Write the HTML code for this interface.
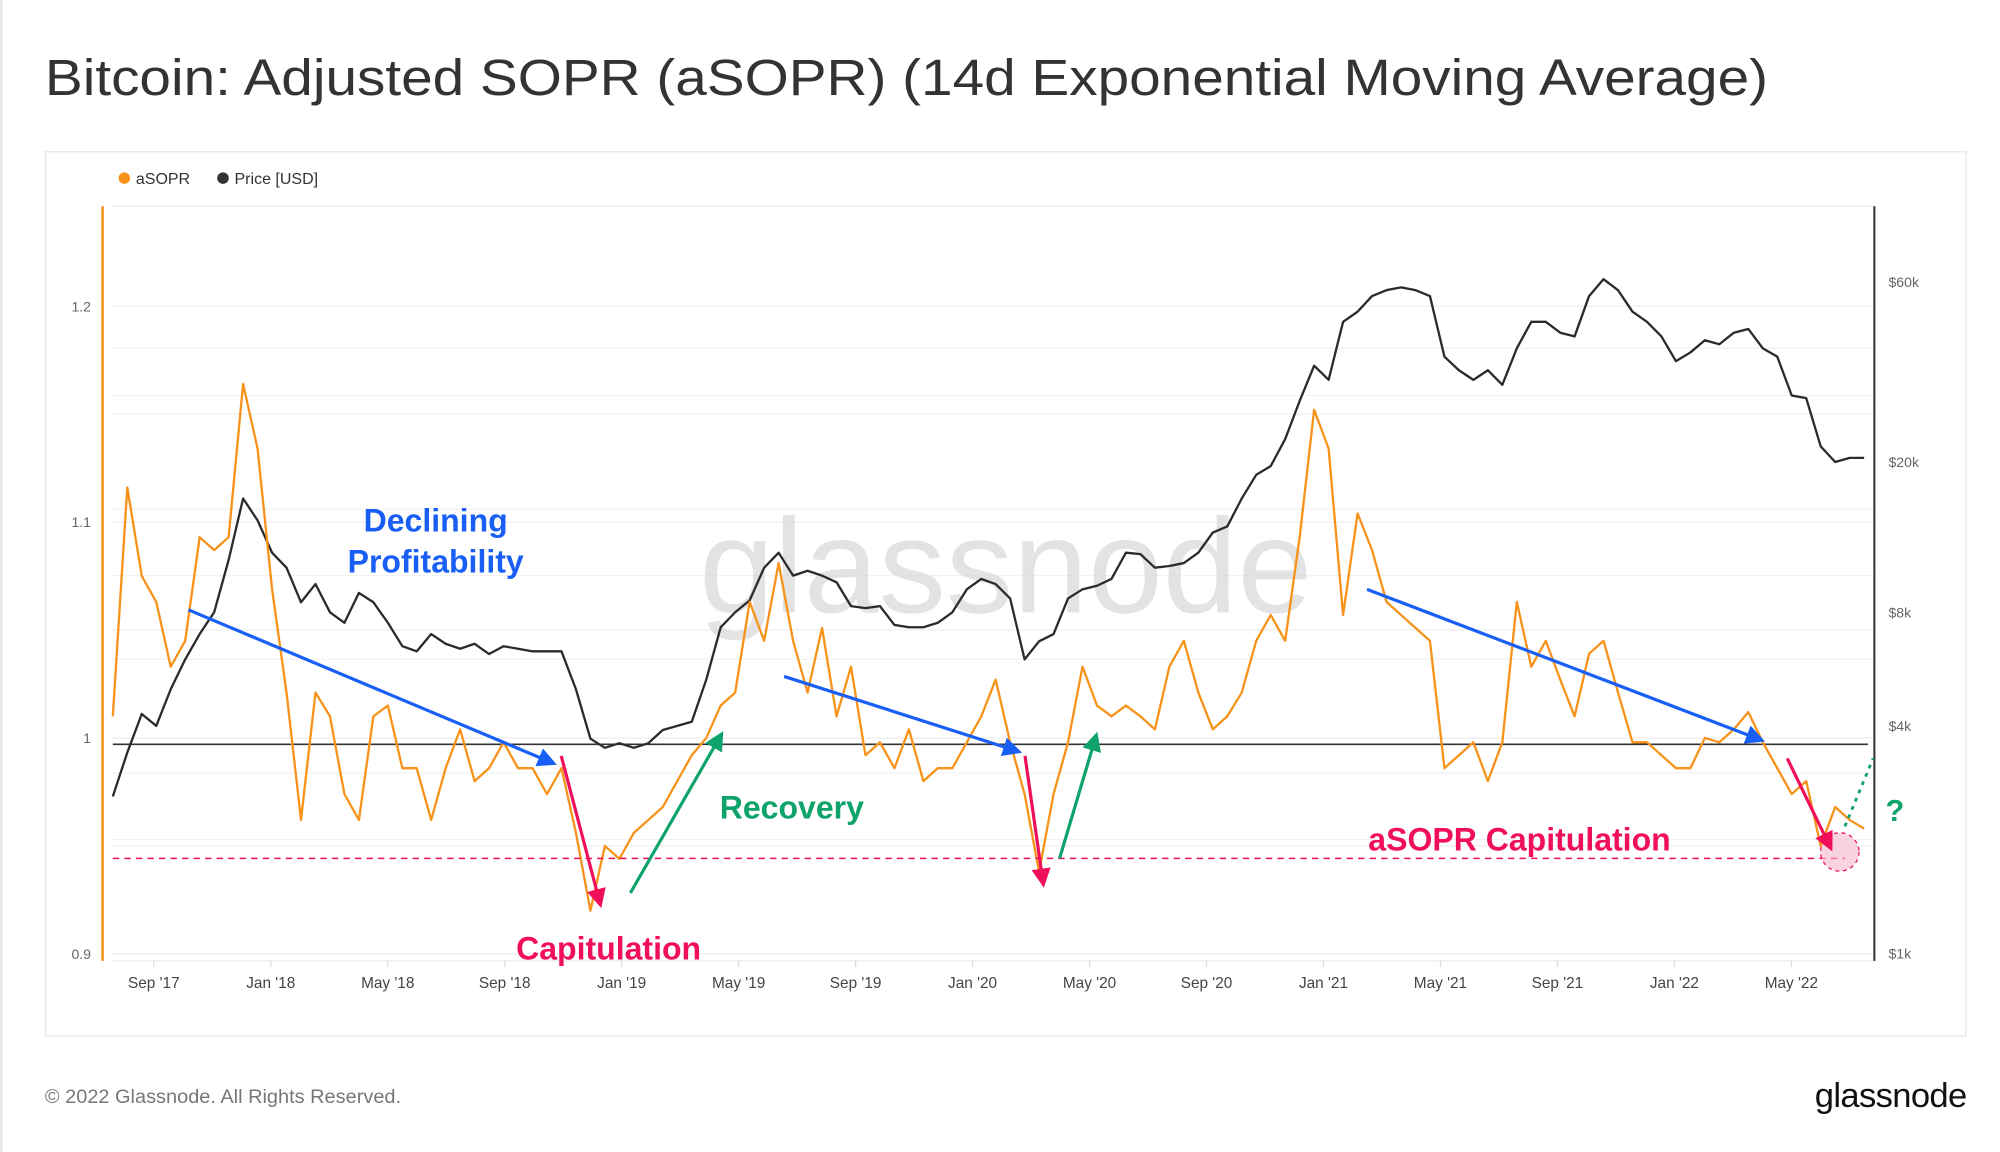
<!DOCTYPE html>
<html><head><meta charset="utf-8"><style>
html,body{margin:0;padding:0;background:#fff;}
svg{display:block;font-family:"Liberation Sans",sans-serif;}
</style></head><body>
<svg width="2000" height="1152" viewBox="0 0 1561 899.2" id="chart">
<rect x="0" y="0" width="1561" height="899.2" fill="#fff"/>
<line x1="1" y1="0" x2="1" y2="899" stroke="#e6e6e6" stroke-width="2"/>
<text x="35" y="74" font-size="40" fill="#333" textLength="1345" lengthAdjust="spacingAndGlyphs">Bitcoin: Adjusted SOPR (aSOPR) (14d Exponential Moving Average)</text>
<rect x="35.5" y="118.5" width="1499" height="690" fill="none" stroke="#e6e6e6"/>
<g>
<g><circle cx="97" cy="139" r="4.5" fill="#f7931a"/><text x="106" y="143.5" font-size="12.5" fill="#333">aSOPR</text></g>
<g><circle cx="174" cy="139" r="4.5" fill="#333"/><text x="183" y="143.5" font-size="12.5" fill="#333">Price [USD]</text></g>
</g>
<g id="grid"></g>
<text x="785" y="478" font-size="105" fill="#d8d8d8" text-anchor="middle" opacity="0.7">glassnode</text>
<g id="axes"></g>
<g id="series"></g>
<g id="annot">
<defs>
<marker id="ab" markerWidth="6" markerHeight="6" refX="4" refY="3" orient="auto" markerUnits="strokeWidth"><path d="M0,0 L6,3 L0,6z" fill="#1a5ff5"/></marker>
<marker id="ar" markerWidth="6" markerHeight="6" refX="4" refY="3" orient="auto" markerUnits="strokeWidth"><path d="M0,0 L6,3 L0,6z" fill="#f0105a"/></marker>
<marker id="ag" markerWidth="6" markerHeight="6" refX="4" refY="3" orient="auto" markerUnits="strokeWidth"><path d="M0,0 L6,3 L0,6z" fill="#0ea36a"/></marker>
</defs>
<line x1="88" y1="670" x2="1440" y2="670" stroke="#f0105a" stroke-width="1.2" stroke-dasharray="5,4"/>
<line x1="147" y1="476" x2="430" y2="595" stroke="#1a5ff5" stroke-width="2.5" marker-end="url(#ab)"/>
<line x1="438" y1="590" x2="468" y2="704" stroke="#f0105a" stroke-width="2.5" marker-end="url(#ar)"/>
<line x1="492" y1="697" x2="562" y2="575" stroke="#0ea36a" stroke-width="2.5" marker-end="url(#ag)"/>
<line x1="612" y1="528" x2="793" y2="586" stroke="#1a5ff5" stroke-width="2.5" marker-end="url(#ab)"/>
<line x1="800" y1="590" x2="814" y2="688" stroke="#f0105a" stroke-width="2.5" marker-end="url(#ar)"/>
<line x1="827" y1="670" x2="855" y2="576" stroke="#0ea36a" stroke-width="2.5" marker-end="url(#ag)"/>
<line x1="1067" y1="460" x2="1373" y2="577" stroke="#1a5ff5" stroke-width="2.5" marker-end="url(#ab)"/>
<circle cx="1436" cy="665" r="15" fill="#f7b6cc" fill-opacity="0.6" stroke="#f0105a" stroke-dasharray="3,3"/>
<line x1="1395" y1="592" x2="1428" y2="660" stroke="#f0105a" stroke-width="2.5" marker-end="url(#ar)"/>
<line x1="1440" y1="645" x2="1462" y2="592" stroke="#0ea36a" stroke-width="2.2" stroke-dasharray="3,4"/>
<text x="340" y="415" font-size="25" font-weight="bold" fill="#1a5ff5" text-anchor="middle">Declining</text>
<text x="340" y="447" font-size="25" font-weight="bold" fill="#1a5ff5" text-anchor="middle">Profitability</text>
<text x="475" y="749" font-size="25" font-weight="bold" fill="#f0105a" text-anchor="middle">Capitulation</text>
<text x="618" y="639" font-size="25" font-weight="bold" fill="#0ea36a" text-anchor="middle">Recovery</text>
<text x="1186" y="664" font-size="25" font-weight="bold" fill="#f0105a" text-anchor="middle">aSOPR Capitulation</text>
<text x="1479" y="641" font-size="24" font-weight="bold" fill="#0ea36a" text-anchor="middle">?</text>
</g>
<text x="35" y="861" font-size="15" fill="#777" textLength="278" lengthAdjust="spacingAndGlyphs">© 2022 Glassnode. All Rights Reserved.</text>
<text x="1535" y="864" font-size="27" fill="#111" text-anchor="end" letter-spacing="-0.5">glassnode</text>
</svg>
<script>
const asopr=[1.01,1.116,1.075,1.063,1.033,1.045,1.093,1.087,1.093,1.164,1.134,1.069,1.021,0.962,1.021,1.01,0.974,0.962,1.01,1.015,0.986,0.986,0.962,0.986,1.004,0.98,0.986,0.998,0.986,0.986,0.974,0.986,0.956,0.92,0.95,0.944,0.956,0.962,0.968,0.98,0.992,1.0,1.015,1.021,1.063,1.045,1.081,1.045,1.021,1.051,1.01,1.033,0.992,0.998,0.986,1.004,0.98,0.986,0.986,0.998,1.01,1.027,0.998,0.974,0.938,0.974,0.998,1.033,1.015,1.01,1.015,1.01,1.004,1.033,1.045,1.021,1.004,1.01,1.021,1.045,1.057,1.045,1.093,1.152,1.134,1.057,1.104,1.087,1.063,1.057,1.051,1.045,0.986,0.992,0.998,0.98,0.998,1.063,1.033,1.045,1.027,1.01,1.039,1.045,1.021,0.998,0.998,0.992,0.986,0.986,1.0,0.998,1.004,1.012,0.998,0.986,0.974,0.98,0.95,0.968,0.962,0.958];
const price=[2600,3400,4300,4000,5000,6000,7000,8000,11000,16000,14000,11500,10500,8500,9500,8000,7500,9000,8500,7500,6500,6300,7000,6600,6400,6600,6200,6500,6400,6300,6300,6300,5000,3700,3500,3600,3500,3600,3900,4000,4100,5300,7300,8000,8600,10500,11500,10000,10300,10000,9600,8300,8200,8300,7400,7300,7300,7500,8000,9200,9800,9500,8700,6000,6700,7000,8700,9200,9400,9800,11500,11400,10500,10600,10800,11500,13000,13500,16000,18500,19500,23000,29000,36000,33000,47000,50000,55000,57000,58000,57000,55000,38000,35000,33000,35000,32000,40000,47000,47000,44000,43000,55000,61000,57000,50000,47000,43000,37000,39000,42000,41000,44000,45000,40000,38000,30000,29500,22000,20000,20500,20500];
const xLabels=["Sep '17","Jan '18","May '18","Sep '18","Jan '19","May '19","Sep '19","Jan '20","May '20","Sep '20","Jan '21","May '21","Sep '21","Jan '22","May '22"];
const leftTicks=[0.9,1,1.1,1.2];
const rightTicks=[1000,4000,8000,20000,60000];
const rightLabels=["$1k","$4k","$8k","$20k","$60k"];

const NS="http://www.w3.org/2000/svg";
const L=80,R=1463,T=161,B=750;
function xI(i){return 88+i*(1455-88)/(asopr.length-1);}
function xM(k){return 120+k*91.3;}
function yA(v){return 576-(v-1)*1685;}
function yP(p){return 744-(Math.log10(p)-3)*294.7;}
function mk(tag,attrs,parent){const e=document.createElementNS(NS,tag);for(const k in attrs)e.setAttribute(k,attrs[k]);parent.appendChild(e);return e;}
const grid=document.getElementById('grid'),axes=document.getElementById('axes'),series=document.getElementById('series');
[0.95,1.05,1.15,1.25].concat(leftTicks).forEach(v=>{if(yA(v)>T-2&&yA(v)<B){const g=mk('line',{x1:L+7,x2:R,y1:yA(v),y2:yA(v),stroke:'#efefef'},grid);}});
[2000,3000,6000,10000,15000,30000,40000].forEach(p=>{const g=mk('line',{x1:L+7,x2:R,y1:yP(p),y2:yP(p),stroke:'#f2f2f2'},grid);});
mk('line',{x1:L+7,x2:R,y1:T,y2:T,stroke:'#ececec'},grid);
mk('line',{x1:L+7,x2:R,y1:B,y2:B,stroke:'#ececec'},grid);
const la=mk('line',{x1:L,x2:L,y1:T,y2:B,stroke:'#f7931a','stroke-width':2},axes);

const ra=mk('line',{x1:R,x2:R,y1:T,y2:B,stroke:'#333','stroke-width':1.6},axes);

leftTicks.forEach(v=>{const t=mk('text',{x:71,y:yA(v)+4,'font-size':11,fill:'#666','text-anchor':'end'},axes);t.textContent=String(v);

});
rightTicks.forEach((p,i)=>{const t=mk('text',{x:1474,y:yP(p)+4,'font-size':11,fill:'#666'},axes);t.textContent=rightLabels[i];

});
xLabels.forEach((s,k)=>{const x=xM(k);mk('line',{x1:x,x2:x,y1:B,y2:B+5,stroke:'#ddd'},axes);
const t=mk('text',{x:x,y:771,'font-size':12,fill:'#444','text-anchor':'middle'},axes);t.textContent=s;

});
const bl=mk('line',{x1:88,x2:R-5,y1:yA(1)+5,y2:yA(1)+5,stroke:'#333','stroke-width':1.3},series);

const pp=mk('polyline',{points:price.map((p,i)=>xI(i).toFixed(1)+','+yP(p).toFixed(1)).join(' '),fill:'none',stroke:'#2b2b2b','stroke-width':1.8,'stroke-linejoin':'round'},series);

const ap=mk('polyline',{points:asopr.map((v,i)=>xI(i).toFixed(1)+','+yA(v).toFixed(1)).join(' '),fill:'none',stroke:'#f7931a','stroke-width':1.8,'stroke-linejoin':'round'},series);

</script>
</body></html>
